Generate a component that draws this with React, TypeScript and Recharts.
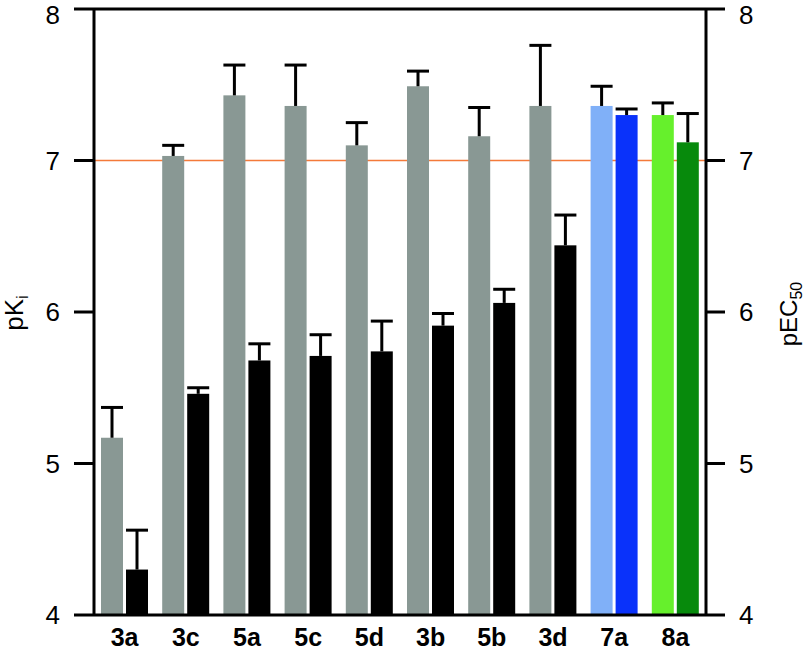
import React from 'react';
import { BarChart, Bar, XAxis, YAxis, ReferenceLine, Cell } from 'recharts';

const categories = ['3a', '3c', '5a', '5c', '5d', '3b', '5b', '3d', '7a', '8a'];
const pKi = [5.17, 7.03, 7.43, 7.36, 7.1, 7.49, 7.16, 7.36, 7.36, 7.3];
const pKiErr = [0.2, 0.07, 0.2, 0.27, 0.15, 0.1, 0.19, 0.4, 0.13, 0.08];
const pEC50 = [4.3, 5.46, 5.68, 5.71, 5.74, 5.91, 6.06, 6.44, 7.3, 7.12];
const pEC50Err = [0.26, 0.04, 0.11, 0.14, 0.2, 0.08, 0.09, 0.2, 0.04, 0.19];
const pKiColors = ['#899894', '#899894', '#899894', '#899894', '#899894', '#899894', '#899894', '#899894', '#80b0f8', '#66f02c'];
const pEC50Colors = ['#000000', '#000000', '#000000', '#000000', '#000000', '#000000', '#000000', '#000000', '#0a32fa', '#078a0c'];
const yTicks = [4, 5, 6, 7, 8];
const yMin = 4;
const yMax = 8;

const data = categories.map((c, i) => ({
  name: c,
  pKi: pKi[i],
  pKiErr: pKiErr[i],
  pEC50: pEC50[i],
  pEC50Err: pEC50Err[i],
}));

const FONT = '"Liberation Sans", Arial, Helvetica, sans-serif';

function makeShape(valKey: string, errKey: string) {
  return (props: any) => {
    const { x, y, width, height, fill, payload } = props;
    const v = payload[valKey];
    const e = payload[errKey];
    const ppu = height / (v - yMin);
    const top = y - e * ppu;
    const cx = x + width / 2;
    return (
      <g>
        <rect x={x} y={y} width={width} height={height} fill={fill} />
        <line x1={cx} x2={cx} y1={y} y2={top} stroke="#000" strokeWidth={3} />
        <line x1={x} x2={x + width} y1={top} y2={top} stroke="#000" strokeWidth={3} />
      </g>
    );
  };
}

const leftLabel = () => (
  <text
    x={23}
    y={313}
    transform="rotate(-90 23 313)"
    textAnchor="middle"
    fontSize={26}
    fontFamily={FONT}
    fill="#000"
  >
    pK
    <tspan fontSize={17} dy={5}>i</tspan>
  </text>
);

const rightLabel = () => (
  <text
    x={797}
    y={314}
    transform="rotate(-90 797 314)"
    textAnchor="middle"
    fontSize={24}
    fontFamily={FONT}
    fill="#000"
  >
    pEC
    <tspan fontSize={16} dy={5}>50</tspan>
  </text>
);

export default function App() {
  return (
    <div style={{ position: 'absolute', left: 0, top: 0, width: 804, height: 652, background: '#fff' }}>
      <BarChart
        width={804}
        height={652}
        data={data}
        margin={{ top: 9, right: 38, left: 34, bottom: 0 }}
        barGap={3}
        barSize={22}
      >
        <XAxis
          dataKey="name"
          tickLine={false}
          tickSize={0}
          tickMargin={13}
          height={37}
          axisLine={{ stroke: '#000', strokeWidth: 3 }}
          tick={{ fill: '#000', fontSize: 25, fontWeight: 'bold', fontFamily: FONT }}
          interval={0}
        />
        <YAxis
          yAxisId="left"
          orientation="left"
          width={60}
          domain={[yMin, yMax]}
          ticks={yTicks}
          allowDataOverflow
          tickSize={20}
          tickMargin={14}
          axisLine={{ stroke: '#000', strokeWidth: 3 }}
          tickLine={{ stroke: '#000', strokeWidth: 3 }}
          tick={{ fill: '#000', fontSize: 26, fontFamily: FONT }}
          label={{ content: leftLabel }}
        />
        <YAxis
          yAxisId="right"
          orientation="right"
          width={60}
          domain={[yMin, yMax]}
          ticks={yTicks}
          allowDataOverflow
          tickSize={19}
          tickMargin={14}
          axisLine={{ stroke: '#000', strokeWidth: 3 }}
          tickLine={{ stroke: '#000', strokeWidth: 3 }}
          tick={{ fill: '#000', fontSize: 26, fontFamily: FONT }}
          label={{ content: rightLabel }}
        />
        <ReferenceLine yAxisId="left" y={7} stroke="#f47a3a" strokeWidth={1.5} zIndex={50} />
        <ReferenceLine yAxisId="left" y={8} stroke="#000" strokeWidth={3} />
        <Bar yAxisId="left" dataKey="pKi" isAnimationActive={false} shape={makeShape('pKi', 'pKiErr')}>
          {data.map((d, i) => (
            <Cell key={d.name} fill={pKiColors[i]} />
          ))}
        </Bar>
        <Bar yAxisId="right" dataKey="pEC50" isAnimationActive={false} shape={makeShape('pEC50', 'pEC50Err')}>
          {data.map((d, i) => (
            <Cell key={d.name} fill={pEC50Colors[i]} />
          ))}
        </Bar>
      </BarChart>
    </div>
  );
}
